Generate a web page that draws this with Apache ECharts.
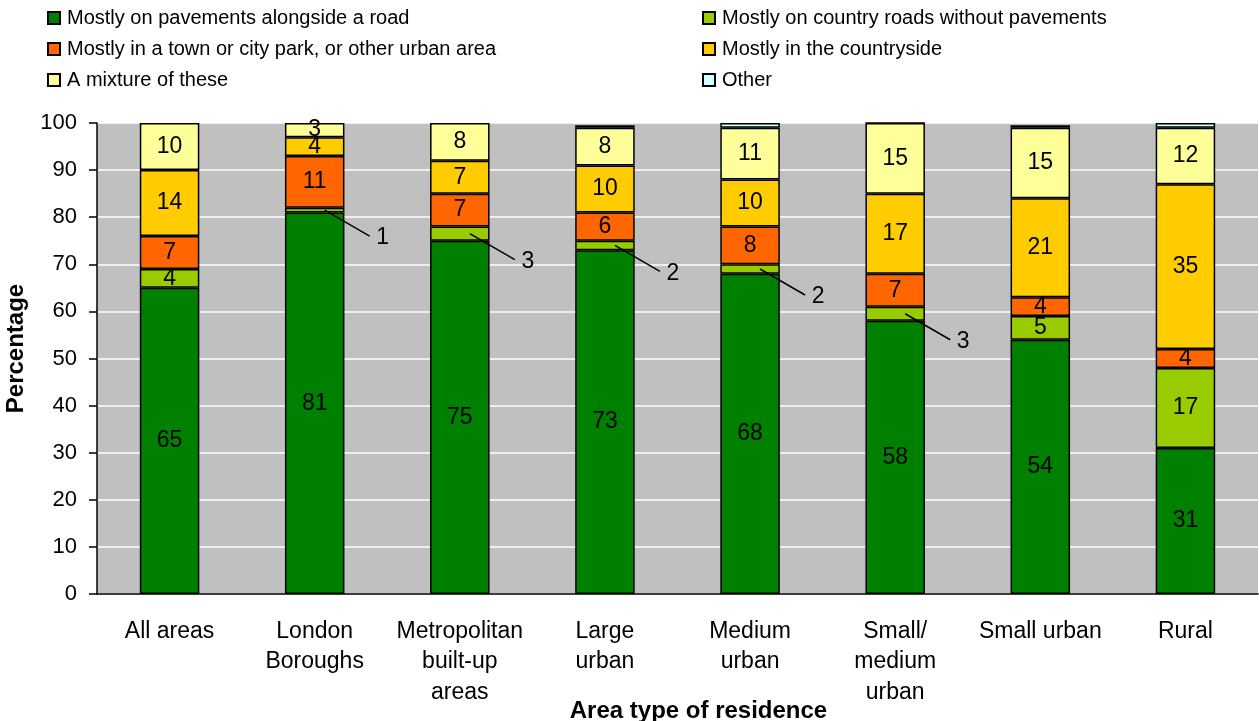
<!DOCTYPE html>
<html>
<head>
<meta charset="utf-8">
<script src="https://cdn.jsdelivr.net/npm/echarts@6/dist/echarts.min.js"></script>
<style>
html,body{margin:0;padding:0;background:#fff;}
#chart{width:1259px;height:721px;}
</style>
</head>
<body>
<div id="chart"></div>
<script>
const categories = ['All areas','London\nBoroughs','Metropolitan\nbuilt-up\nareas','Large\nurban','Medium\nurban','Small/\nmedium\nurban','Small urban','Rural'];
const seriesNames = ['Mostly on pavements alongside a road','Mostly on country roads without pavements','Mostly in a town or city park, or other urban area','Mostly in the countryside','A mixture of these','Other'];
const pavements   = [65, 81, 75, 73, 68, 58, 54, 31];
const countryRoads= [4, 1, 3, 2, 2, 3, 5, 17];
const urbanPark   = [7, 11, 7, 6, 8, 7, 4, 4];
const countryside = [14, 4, 7, 10, 10, 17, 21, 35];
const mixture     = [10, 3, 8, 8, 11, 15, 15, 12];
const other       = [0.3, 0.3, 0.3, 0.5, 1, 0, 0.5, 1];
const yTicks = [0,10,20,30,40,50,60,70,80,90,100];
// categories whose country-roads value is labelled with a leader line
const leaderIdx = [1, 2, 3, 4, 5];

const colors = ['#008000','#99CC00','#FF6600','#FFCC00','#FFFF99','#CCFFFF'];
const FONT = 'Liberation Sans, Arial, sans-serif';
const values = [pavements, countryRoads, urbanPark, countryside, mixture, other];

const chart = echarts.init(document.getElementById('chart'));

const barSeries = values.map((arr, s) => ({
  name: seriesNames[s],
  type: 'bar',
  stack: 'total',
  barWidth: '41%',
  itemStyle: {color: colors[s], borderColor: '#000', borderWidth: 1.5},
  label: {
    show: s < 5,
    position: 'inside',
    color: '#000',
    fontFamily: FONT,
    fontSize: 23,
    formatter: p => (s === 1 && leaderIdx.indexOf(p.dataIndex) >= 0) ? '' : String(Math.round(p.value))
  },
  emphasis: {disabled: true},
  data: arr
}));

const leaderData = leaderIdx.map(i => [i, pavements[i], countryRoads[i]]);

const leaderSeries = {
  type: 'custom',
  name: 'leader',
  z: 10,
  silent: true,
  data: leaderData,
  renderItem: function (params, api) {
    const i = api.value(0);
    const base = api.value(1);
    const v = api.value(2);
    const p = api.coord([i, base + v / 2]);
    return {
      type: 'group',
      children: [
        {type: 'line', shape: {x1: p[0] + 10, y1: p[1], x2: p[0] + 55, y2: p[1] + 26},
         style: {stroke: '#000', lineWidth: 1.5}},
        {type: 'text', x: p[0] + 68, y: p[1] + 28,
         style: {text: String(v), fill: '#000', font: '23px ' + FONT, align: 'center', verticalAlign: 'middle'}}
      ]
    };
  }
};

const legendBase = {
  orient: 'vertical', top: 3, itemGap: 11,
  itemWidth: 12, itemHeight: 12, icon: 'rect',
  textStyle: {fontFamily: FONT, fontSize: 20, color: '#000', lineHeight: 20, padding: [0, 0, 0, 2]},
  selectedMode: false
};

const option = {
  animation: false,
  backgroundColor: '#fff',
  textStyle: {fontFamily: FONT},
  legend: [
    Object.assign({}, legendBase, {data: [seriesNames[0], seriesNames[2], seriesNames[4]], left: 42}),
    Object.assign({}, legendBase, {data: [seriesNames[1], seriesNames[3], seriesNames[5]], left: 697})
  ],
  grid: {left: 97, right: 1, top: 123, bottom: 127, containLabel: false, outerBoundsMode: 'none',
         show: true, backgroundColor: '#C0C0C0', borderWidth: 0},
  xAxis: {
    type: 'category',
    data: categories,
    axisLine: {lineStyle: {color: '#000', width: 1.5}},
    axisTick: {show: false},
    axisLabel: {color: '#000', fontFamily: FONT, fontSize: 23, lineHeight: 30.5, margin: 22, interval: 0},
    name: 'Area type of residence',
    nameLocation: 'middle',
    nameGap: 105,
    nameMoveOverlap: false,
    nameTextStyle: {color: '#000', fontFamily: FONT, fontSize: 24, fontWeight: 'bold', padding: [0, 0, 0, 42]}
  },
  yAxis: {
    type: 'value',
    min: 0, max: 100, interval: 10,
    axisLine: {show: true, lineStyle: {color: '#000', width: 1.5}},
    axisTick: {show: true, length: 8, lineStyle: {color: '#000', width: 1.5}},
    axisLabel: {color: '#000', fontFamily: FONT, fontSize: 22, margin: 20,
      formatter: v => yTicks.indexOf(v) >= 0 ? String(v) : ''},
    splitLine: {lineStyle: {color: '#fff', width: 1.5}},
    name: 'Percentage',
    nameLocation: 'middle',
    nameGap: 69,
    nameMoveOverlap: false,
    nameTextStyle: {color: '#000', fontFamily: FONT, fontSize: 24, fontWeight: 'bold', padding: [0, 0, 0, 20]}
  },
  series: barSeries.concat([leaderSeries])
};

chart.setOption(option);
</script>
</body>
</html>
